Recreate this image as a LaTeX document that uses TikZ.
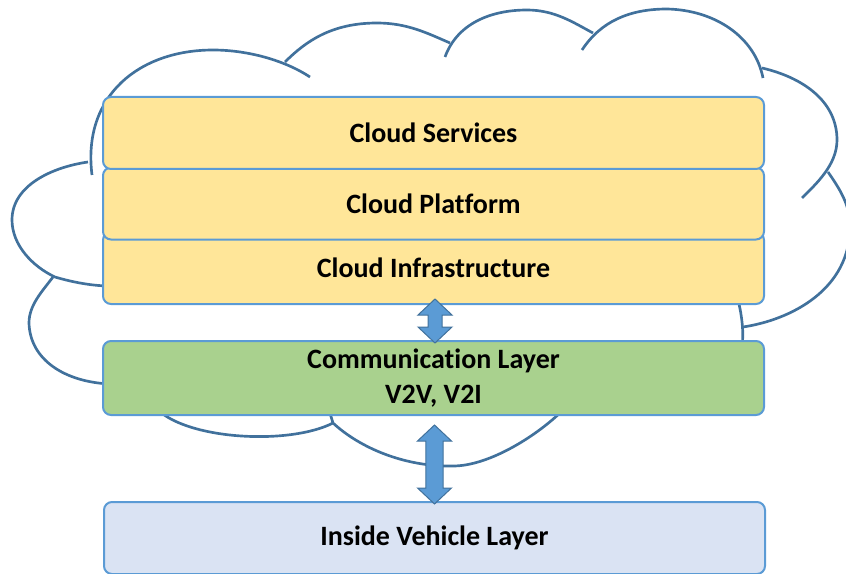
\documentclass[tikz,border=0pt]{standalone}
\usepackage{fontspec}
\setmainfont{Carlito}[Ligatures=CommonOff]
\usetikzlibrary{calc}

\definecolor{cloudblue}{HTML}{41719C}
\definecolor{boxline}{HTML}{5B9BD5}
\definecolor{layeryellow}{HTML}{FFE699}
\definecolor{layergreen}{HTML}{A9D18E}
\definecolor{layerblue}{HTML}{DAE3F3}

\tikzset{
  cloudline/.style={draw=cloudblue, line width=2pt},
  layer/.style={draw=boxline, line width=1.5pt, rounded corners=6pt,
    minimum width=495.75pt, minimum height=54pt, inner sep=0pt, align=center,
    font=\fontsize{21}{26.25}\selectfont\bfseries},
  linkarrow/.style={draw=cloudblue, fill=boxline, line width=0.75pt},
}

% up/down block arrow: top tip, bottom tip, half shaft width
\newcommand{\vlink}[3]{%
  \draw[linkarrow] let \p1=(#1), \p2=(#2) in
    (\x1,\y1) -- (\x1+12.75pt,\y1-12pt) -- (\x1+#3,\y1-12pt)
    -- (\x1+#3,\y2+12pt) -- (\x1+12.75pt,\y2+12pt) -- (\x1,\y2)
    -- (\x1-12.75pt,\y2+12pt) -- (\x1-#3,\y2+12pt)
    -- (\x1-#3,\y1-12pt) -- (\x1-12.75pt,\y1-12pt) -- cycle;
}

\begin{document}
\begin{tikzpicture}[x=0.75pt, y=-0.75pt]
  \useasboundingbox (0,0) rectangle (846,574);

  % cloud outline, lobe by lobe
  \draw[cloudline] (92,175) .. controls (82,95) and (140,50) .. (213,50)
    .. controls (248,50) and (285,60.5) .. (310,77);
  \draw[cloudline] (88,162) .. controls (53,167) and (12,185) .. (12,220)
    .. controls (12,245) and (32.5,266.5) .. (55,277)
    .. controls (75,283) and (95,286) .. (110,286);
  \draw[cloudline] (53,277) .. controls (42.2,291.4) and (29,305) .. (29,323)
    .. controls (30,360) and (65,382) .. (110,384);
  \draw[cloudline] (285,62) .. controls (306,41) and (332,23) .. (377,23)
    .. controls (407,23) and (427,33) .. (450,43);
  \draw[cloudline] (445,57) .. controls (457,24) and (490,10) .. (527,10)
    .. controls (555,10) and (573.6,22.7) .. (593,33);
  \draw[cloudline] (582,50) .. controls (601,21) and (630,9) .. (667,9)
    .. controls (715,10) and (755,37) .. (763,78);
  \draw[cloudline] (762,68) .. controls (801,77) and (837,100) .. (837,140)
    .. controls (837,165) and (816,184) .. (802,198);
  \draw[cloudline] (828,172) .. controls (839.4,188.4) and (850,205) .. (850,225)
    .. controls (851,290) and (790,320) .. (743,327);
  \draw[cloudline] (742,345) .. controls (744,335) and (742,315) .. (738,300);
  \draw[cloudline] (563,410) .. controls (538.5,434.5) and (490,466) .. (453,466)
    .. controls (405,467) and (360,448) .. (333,423) -- (329,410);
  \draw[cloudline] (158,410) .. controls (190,440) and (290,445) .. (333,423);

  % layers
  \node[layer, fill=layeryellow] (infra) at (433.5,268) {Cloud Infrastructure};
  \node[layer, fill=layeryellow] (platform) at (433.5,203.5) {Cloud Platform};
  \node[layer, fill=layeryellow] (services) at (433.5,133) {Cloud Services};
  \node[layer, fill=layergreen, minimum height=55.5pt] (comm) at (433.5,378) {Communication Layer\\V2V, V2I};
  \node[layer, fill=layerblue] (vehicle) at (434.5,538) {Inside Vehicle Layer};

  % links between layers
  \coordinate (a1top) at ($(infra.south)+(1.5,-6)$);
  \coordinate (a1bot) at ($(comm.north)+(1.5,3)$);
  \coordinate (a2top) at ($(comm.south)+(1,9)$);
  \coordinate (a2bot) at ($(vehicle.north)+(0,3)$);
  \vlink{a1top}{a1bot}{5.25pt}
  \vlink{a2top}{a2bot}{6.4pt}
\end{tikzpicture}
\end{document}
